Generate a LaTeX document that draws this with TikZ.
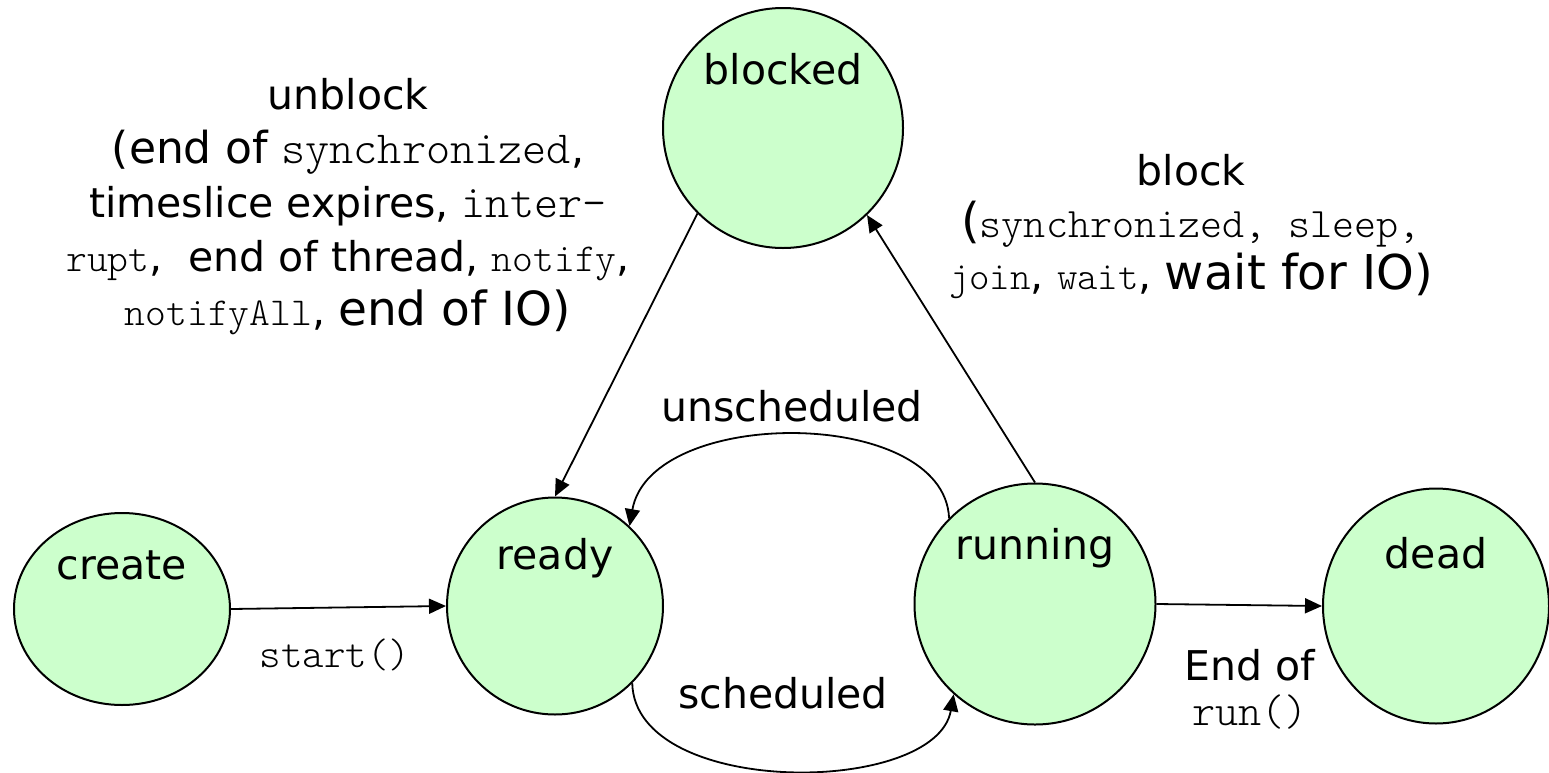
\documentclass[tikz,border=0pt]{standalone}
\usepackage{fontspec}
\setmainfont{DejaVu Sans}
\newfontfamily\codefont{lmmonolt10-regular.otf}
\usetikzlibrary{shapes.geometric,arrows.meta}
\definecolor{statefill}{HTML}{CCFFCC}
% code words in a light typewriter face at a given size (pt)
\newcommand\cd[2]{{\fontsize{#1}{#1}\selectfont\codefont #2}}
% plain words at a given size (pt)
\newcommand\sz[2]{{\fontsize{#1}{#1}\selectfont #2}}
\tikzset{
  statebox/.style={ellipse, draw=black, line width=1pt, fill=statefill, inner sep=0pt},
  statename/.style={anchor=base, inner sep=0pt},
  txt/.style={anchor=base, inner sep=0pt, align=center},
  arr/.style={line width=0.9pt, -{Triangle[length=8.5pt,width=7.5pt]}},
}
\begin{document}
\begin{tikzpicture}[x=0.5pt,y=-0.5pt,font=\fontsize{20.5}{27}\selectfont]
\useasboundingbox (0,0) rectangle (1549,772);

% states
\node[statebox, minimum width=108pt, minimum height=96pt]   (create)  at (122,609)  {};
\node[statebox, minimum width=108pt, minimum height=108.5pt] (ready)   at (555,606)  {};
\node[statebox, minimum width=120.5pt, minimum height=120.5pt] (running) at (1035,604) {};
\node[statebox, minimum width=113pt, minimum height=117.5pt] (dead)    at (1436,606) {};
\node[statebox, minimum width=120pt, minimum height=120pt]   (blocked) at (783,128)  {};

\node[statename] (createname)  at (122,579)  {create};
\node[statename] (readyname)   at (555,569)  {ready};
\node[statename] (runningname) at (1035,559) {running};
\node[statename] (deadname)    at (1436,568) {dead};
\node[statename] (blockedname) at (783,84)   {blocked};

% transitions
\draw[arr] (create.east) -- (ready.west);
\draw[arr] (blocked.-135) -- (ready.north);
\draw[arr] (running.north) -- (blocked.-46);
\draw[arr] (running.east) -- (dead.west);
\draw[arr] (ready.-45) .. controls +(3,115) and +(-18,102) .. (running.-132);
\draw[arr] (running.135) .. controls +(-5,-112) and +(21,-120) .. (ready.47);

% transition labels
\node[txt] (startlbl) at (335,667) {\cd{20.5}{start()}};
\node[txt] (schedlbl) at (783,708) {scheduled};
\node[txt] (unschedlbl) at (792,421) {unscheduled};
\node[txt, font=\fontsize{20.5}{22.5}\selectfont] (endlbl) at (1250,725)
  {End of\\\cd{22}{run()}};
\node[txt] (unblocklbl) at (348,325)
  {unblock\\
   \sz{22}{(end of} \cd{23}{synchronized},\\
   timeslice expires, \cd{23}{inter-}\\
   \cd{19.8}{rupt}, \ end of thread, \cd{19.8}{notify},\\
   \cd{19.8}{notifyAll}, \sz{23.5}{end of IO)}};
\node[txt, font=\fontsize{20.5}{26}\selectfont] (blocklbl) at (1191,289)
  {block\\
   \sz{24}{(}\cd{21}{synchronized, sleep,}\\
   \cd{19.5}{join}, \cd{19.5}{wait}, \sz{24}{wait for IO)}};
\end{tikzpicture}
\end{document}
